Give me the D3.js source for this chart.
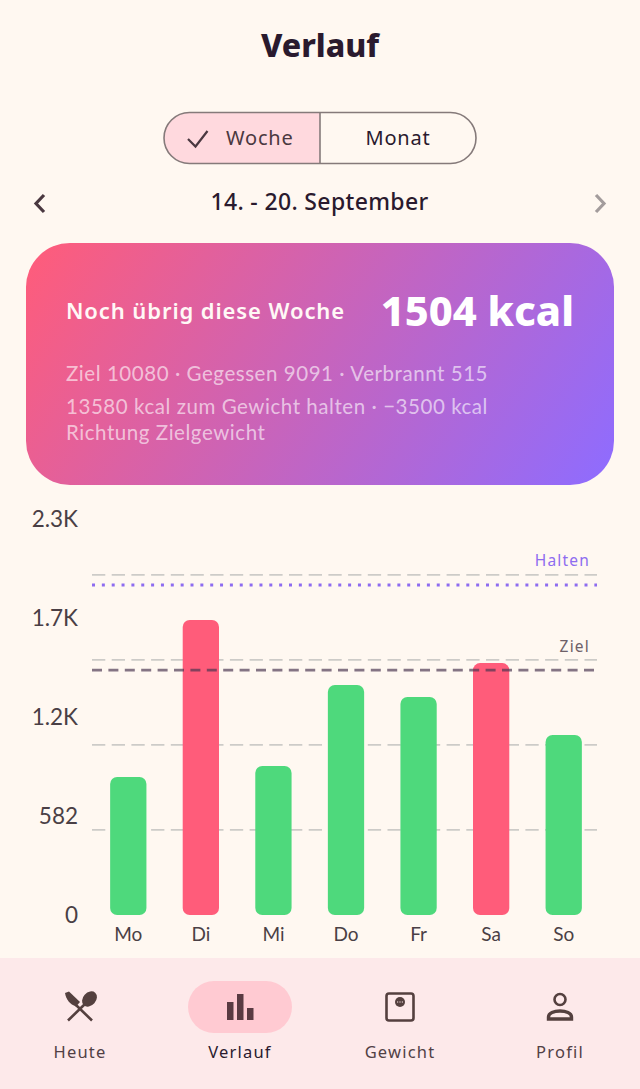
<!DOCTYPE html>
<html>
<head>
<meta charset="utf-8">
<script src="https://cdn.jsdelivr.net/npm/d3@7"></script>
<style>
html, body { margin: 0; padding: 0; background: #fff8f1; }
svg { display: block; }
text { font-family: "Lato", sans-serif; }
.head { font-family: "Noto Sans", sans-serif; }
</style>
</head>
<body>
<script>
var days = ["Mo", "Di", "Mi", "Do", "Fr", "Sa", "So"];
var kcal = [811, 1734, 876, 1352, 1282, 1481, 1058];
var goal = 1440;
var maintain = 1940;
var gridValues = [500, 1000, 1500, 2000];
var tickValues = [0, 582, 1164, 1746, 2328];
var tickLabels = ["0", "582", "1.2K", "1.7K", "2.3K"];
var navLabels = ["Heute", "Verlauf", "Gewicht", "Profil"];
var cardLines = ["Ziel 10080 · Gegessen 9091 · Verbrannt 515", "13580 kcal zum Gewicht halten · −3500 kcal", "Richtung Zielgewicht"];

var w = 640, h = 1089;

var svg = d3.select("body").append("svg")
    .attr("width", w)
    .attr("height", h);

svg.append("rect").attr("width", w).attr("height", h).attr("fill", "#fff8f1");

// header
svg.append("text").attr("class", "head")
    .attr("x", 320).attr("y", 57)
    .attr("text-anchor", "middle")
    .attr("font-size", 32).attr("font-weight", 800)
    .attr("fill", "#2a1a2e")
    .text("Verlauf");

// segmented button
svg.append("path")
    .attr("d", "M320 112.5H189.5a25.5 25.5 0 0 0 0 51H320Z")
    .attr("fill", "#ffd9de");
svg.append("rect")
    .attr("x", 164).attr("y", 112.5).attr("width", 312).attr("height", 51).attr("rx", 25.5)
    .attr("fill", "none").attr("stroke", "#857a7a").attr("stroke-width", 1.6);
svg.append("line")
    .attr("x1", 320).attr("x2", 320).attr("y1", 112.5).attr("y2", 163.5)
    .attr("stroke", "#857a7a").attr("stroke-width", 1.6);
svg.append("path")
    .attr("d", "M188 139l7.5 7.5L207.5 131")
    .attr("fill", "none").attr("stroke", "#4a3840").attr("stroke-width", 2.2);
svg.append("text").attr("class", "head")
    .attr("x", 226).attr("y", 145)
    .attr("font-size", 20).attr("font-weight", 400).attr("letter-spacing", 0.8).attr("fill", "#4a3840")
    .text("Woche");
svg.append("text").attr("class", "head")
    .attr("x", 398).attr("y", 145)
    .attr("text-anchor", "middle")
    .attr("font-size", 20).attr("font-weight", 400).attr("letter-spacing", 0.8).attr("fill", "#2a1a2e")
    .text("Monat");

// week row
svg.append("path")
    .attr("d", "M44 195l-8 8.5 8 8.5")
    .attr("fill", "none").attr("stroke", "#4a3840").attr("stroke-width", 3.2);
svg.append("path")
    .attr("d", "M596 195l8 8.5-8 8.5")
    .attr("fill", "none").attr("stroke", "#a39c9c").attr("stroke-width", 3.2);
svg.append("text").attr("class", "head")
    .attr("x", 319.5).attr("y", 210)
    .attr("text-anchor", "middle")
    .attr("font-size", 23).attr("font-weight", 500).attr("letter-spacing", 0.35).attr("fill", "#2a1a2e")
    .text("14. - 20. September");

// card
var grad = svg.append("defs").append("linearGradient")
    .attr("id", "cardGrad")
    .attr("gradientUnits", "userSpaceOnUse")
    .attr("x1", 60).attr("y1", 200).attr("x2", 580).attr("y2", 530);
grad.append("stop").attr("offset", 0).attr("stop-color", "#ff5c7a");
grad.append("stop").attr("offset", 1).attr("stop-color", "#8e6cff");

svg.append("rect")
    .attr("x", 26).attr("y", 243).attr("width", 588).attr("height", 242).attr("rx", 44)
    .attr("fill", "url(#cardGrad)");
svg.append("text").attr("class", "head")
    .attr("x", 66).attr("y", 319)
    .attr("font-size", 22).attr("font-weight", 600).attr("letter-spacing", 0.9).attr("fill", "#fff8f6")
    .text("Noch übrig diese Woche");
svg.append("text").attr("class", "head")
    .attr("x", 574).attr("y", 326)
    .attr("text-anchor", "end")
    .attr("font-size", 41.5).attr("font-weight", 800).attr("fill", "#ffffff")
    .text("1504 kcal");
svg.selectAll(".cardline")
    .data(cardLines)
    .enter().append("text")
    .attr("class", "cardline")
    .attr("x", 66)
    .attr("y", function (d, i) { return [381, 414, 440][i]; })
    .attr("font-size", 20.5)
    .attr("letter-spacing", 0.55)
    .attr("fill", "#ffffff").attr("fill-opacity", 0.62)
    .text(function (d) { return d; });

// chart
var x = d3.scaleBand().domain(days).range([92, 600]).paddingInner(0.5).paddingOuter(0.25);
var y = d3.scaleLinear().domain([0, 2328]).range([915, 519]);

svg.selectAll(".grid")
    .data(gridValues)
    .enter().append("line")
    .attr("class", "grid")
    .attr("x1", 92).attr("x2", 597)
    .attr("y1", function (d) { return y(d); })
    .attr("y2", function (d) { return y(d); })
    .attr("stroke", "#cdcbc8")
    .attr("stroke-width", 1.7)
    .attr("stroke-dasharray", "13.3 6.4");

svg.selectAll(".bar")
    .data(kcal)
    .enter().append("rect")
    .attr("class", "bar")
    .attr("x", function (d, i) { return x(days[i]); })
    .attr("y", function (d) { return y(d); })
    .attr("width", x.bandwidth())
    .attr("height", function (d) { return y(0) - y(d); })
    .attr("rx", 7)
    .attr("fill", function (d) { return d > goal ? "#ff5c7a" : "#4ed97c"; });

svg.append("line")
    .attr("x1", 92).attr("x2", 597)
    .attr("y1", y(maintain)).attr("y2", y(maintain))
    .attr("stroke", "#8e6cf0").attr("stroke-width", 3)
    .attr("stroke-dasharray", "3 6.85");
svg.append("line")
    .attr("x1", 92).attr("x2", 597)
    .attr("y1", y(goal)).attr("y2", y(goal))
    .attr("stroke", "#4a3550").attr("stroke-opacity", 0.68).attr("stroke-width", 2.8)
    .attr("stroke-dasharray", "10 6.4");

svg.append("text").attr("class", "head")
    .attr("x", 590).attr("y", 566)
    .attr("text-anchor", "end")
    .attr("font-size", 15.5).attr("font-weight", 400).attr("letter-spacing", 1.2).attr("fill", "#8e6cf0")
    .text("Halten");
svg.append("text").attr("class", "head")
    .attr("x", 590).attr("y", 652)
    .attr("text-anchor", "end")
    .attr("font-size", 15.5).attr("font-weight", 400).attr("letter-spacing", 1.2).attr("fill", "#6e6068")
    .text("Ziel");

var yAxis = d3.axisLeft(y)
    .tickValues(tickValues)
    .tickFormat(function (d, i) { return tickLabels[i]; })
    .tickSize(0)
    .tickPadding(0);
var gy = svg.append("g").attr("transform", "translate(78,0)").call(yAxis);
gy.select(".domain").remove();
gy.selectAll("text")
    .attr("font-size", 22.5)
    .attr("font-weight", 400)
    .attr("fill", "#4a3f45")
    .style("font-family", "Lato, sans-serif");

var xAxis = d3.axisBottom(x).tickSize(0).tickPadding(0);
var gx = svg.append("g").attr("transform", "translate(0,927)").call(xAxis);
gx.select(".domain").remove();
gx.selectAll("text")
    .attr("font-size", 19)
    .attr("font-weight", 400)
    .attr("fill", "#4a3f45")
    .style("font-family", "Lato, sans-serif");

// bottom nav
svg.append("rect")
    .attr("x", 0).attr("y", 958).attr("width", w).attr("height", 131)
    .attr("fill", "#fde9ea");
svg.append("rect")
    .attr("x", 188).attr("y", 981).attr("width", 104).attr("height", 52).attr("rx", 26)
    .attr("fill", "#ffcad2");

var navX = d3.scalePoint().domain(navLabels).range([80, 560]);
svg.selectAll(".navlabel")
    .data(navLabels)
    .enter().append("text")
    .attr("class", "head navlabel")
    .attr("x", function (d) { return navX(d); })
    .attr("y", 1058)
    .attr("text-anchor", "middle")
    .attr("font-size", 16.5)
    .attr("font-weight", 400)
    .attr("letter-spacing", 1.2)
    .attr("fill", function (d) { return d == "Verlauf" ? "#2a1a2e" : "#514045"; })
    .text(function (d) { return d; });

var icon = "#54403f";
// knife and spoon
svg.append("path").attr("fill", icon)
    .attr("d", "M65 993l4-1.5 11 10.5-4 4.5c-6-2-10-7-11-13.5Z");
svg.append("path").attr("stroke", icon).attr("stroke-width", 2.6).attr("fill", "none")
    .attr("d", "M68 1020.5L86 1003M92 1020.5L76 1005");
svg.append("ellipse").attr("cx", 89.5).attr("cy", 999).attr("rx", 6.5).attr("ry", 8.5)
    .attr("transform", "rotate(42 89.5 999)").attr("fill", icon);
// bars icon
svg.append("path").attr("fill", "#5a3a42")
    .attr("d", "M227 1002h6.5v18h-6.5ZM237 994h6.5v26H237ZM247 1008h6.5v12H247Z");
// scale
svg.append("rect").attr("x", 386.5).attr("y", 993.5).attr("width", 27).attr("height", 27).attr("rx", 2.5)
    .attr("fill", "none").attr("stroke", icon).attr("stroke-width", 2.6);
svg.append("circle").attr("cx", 400).attr("cy", 1002).attr("r", 5).attr("fill", icon);
svg.append("path").attr("stroke", "#fde9ea").attr("stroke-width", 1).attr("d", "M397 1002h6").attr("stroke-dasharray", "1.2 1.2");
// person
svg.append("circle").attr("cx", 560).attr("cy", 999.5).attr("r", 5.5)
    .attr("fill", "none").attr("stroke", icon).attr("stroke-width", 2.6);
svg.append("path").attr("fill", "none").attr("stroke", icon).attr("stroke-width", 3.4)
    .attr("d", "M548.5 1019v-2c0-4 5.5-6 11.5-6s11.5 2 11.5 6v2Z");
</script>
</body>
</html>
